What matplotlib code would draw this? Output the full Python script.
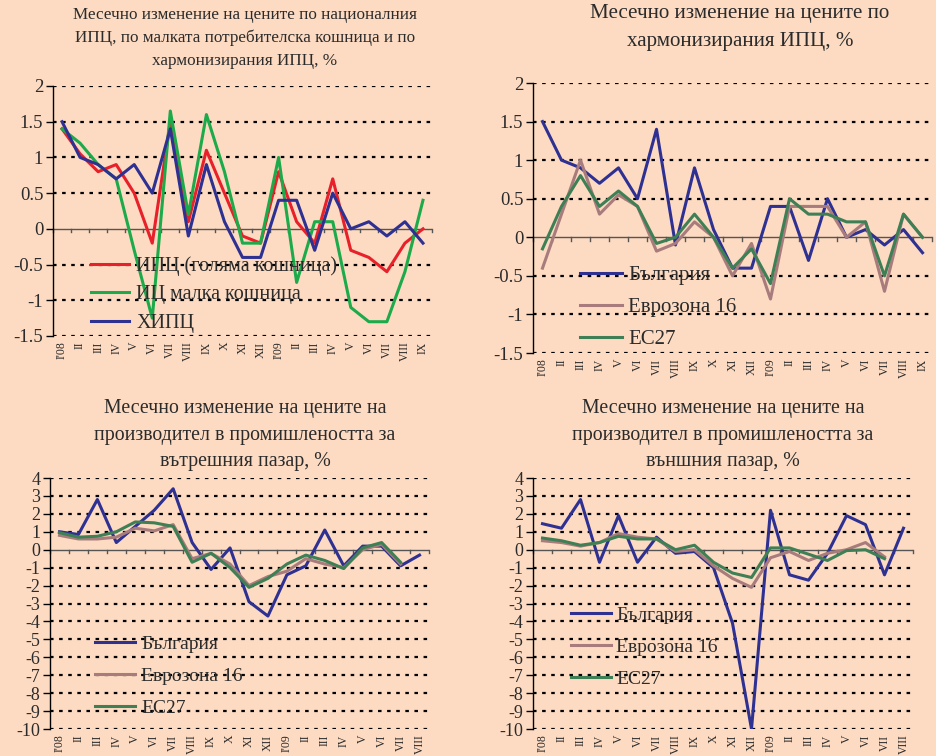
import matplotlib
matplotlib.use("Agg")
import matplotlib.pyplot as plt
from matplotlib.ticker import FixedLocator, FuncFormatter
import numpy as np

# ---------------- data ----------------
months_21 = ["I'08", "II", "III", "IV", "V", "VI", "VII", "VIII", "IX", "X", "XI", "XII",
             "I'09", "II", "III", "IV", "V", "VI", "VII", "VIII", "IX"]
months_20 = months_21[:20]

# Panel 1: national CPI, small basket, HICP
cpi_big = [1.4, 1.05, 0.8, 0.9, 0.5, -0.2, 1.5, 0.1, 1.1, 0.5, -0.1, -0.2,
           0.8, 0.1, -0.2, 0.7, -0.3, -0.4, -0.6, -0.2, 0.0]
cpi_small = [1.4, 1.2, 0.9, 0.7, -0.3, -1.25, 1.65, 0.2, 1.6, 0.8, -0.2, -0.2,
             1.0, -0.75, 0.1, 0.1, -1.1, -1.3, -1.3, -0.6, 0.4]
hicp_bg = [1.5, 1.0, 0.9, 0.7, 0.9, 0.5, 1.4, -0.1, 0.9, 0.1, -0.4, -0.4,
           0.4, 0.4, -0.3, 0.5, 0.0, 0.1, -0.1, 0.1, -0.2]

# Panel 2: HICP Bulgaria / Euro area 16 / EU27
hicp_ez16 = [-0.4, 0.3, 1.0, 0.3, 0.55, 0.4, -0.18, -0.08, 0.2, 0.0, -0.5, -0.08,
             -0.8, 0.4, 0.4, 0.4, 0.0, 0.2, -0.7, 0.3, 0.0]
hicp_eu27 = [-0.15, 0.4, 0.8, 0.4, 0.6, 0.4, -0.08, 0.0, 0.3, 0.0, -0.4, -0.15,
             -0.6, 0.5, 0.3, 0.3, 0.2, 0.2, -0.5, 0.3, 0.0]

# Panel 3: producer prices, domestic market
dom_bg = [1.0, 0.85, 2.8, 0.4, 1.3, 2.2, 3.4, 0.4, -1.1, 0.1, -2.9, -3.7,
          -1.4, -0.9, 1.1, -0.9, 0.2, 0.2, -0.9, -0.3]
dom_ez16 = [0.8, 0.6, 0.6, 0.7, 1.2, 1.05, 1.4, -0.5, -0.2, -0.8, -2.0, -1.5,
            -1.2, -0.5, -0.8, -1.0, 0.0, 0.3, -0.8]
dom_eu27 = [0.95, 0.7, 0.75, 1.0, 1.55, 1.5, 1.3, -0.7, -0.2, -1.0, -2.1, -1.6,
            -0.8, -0.3, -0.6, -1.05, 0.1, 0.4, -0.7]

# Panel 4: producer prices, external market
ext_bg = [1.45, 1.2, 2.8, -0.7, 1.9, -0.7, 0.7, -0.2, -0.1, -1.0, -4.1, -10.0,
          2.2, -1.4, -1.7, -0.2, 1.9, 1.4, -1.4, 1.2]
ext_ez16 = [0.5, 0.4, 0.2, 0.4, 0.9, 0.7, 0.6, -0.1, 0.0, -0.9, -1.6, -2.1,
            -0.45, -0.1, -0.6, -0.2, 0.0, 0.4, -0.4]
ext_eu27 = [0.65, 0.5, 0.25, 0.4, 0.75, 0.6, 0.6, 0.0, 0.25, -0.7, -1.3, -1.55,
            0.1, 0.1, -0.25, -0.6, -0.05, 0.0, -0.5]

ticks_top = [2, 1.5, 1, 0.5, 0, -0.5, -1, -1.5]
ticks_bot = list(range(4, -11, -1))

titles = [
    "Месечно изменение на цените по националния\nИПЦ, по малката потребителска кошница и по\nхармонизирания ИПЦ, %",
    "Месечно изменение на цените по\nхармонизирания ИПЦ, %",
    "Месечно изменение на цените на\nпроизводител в промишлеността за\nвътрешния пазар, %",
    "Месечно изменение на цените на\nпроизводител в промишлеността за\nвъншния пазар, %",
]

# ---------------- style ----------------
BG = "#FDDBC2"
TXT = "#2b2b2b"
RED = "#E8202A"
GRN = "#1DAA4A"
NAVY = "#2E3192"
MAUVE = "#A87C7C"
DGRN = "#3F7F55"
plt.rcParams["font.family"] = ["Liberation Serif", "DejaVu Serif"]
plt.rcParams["text.color"] = TXT

W, H = 936, 756
fig = plt.figure(figsize=(W / 100, H / 100), dpi=100, facecolor=BG)


def make_ax(l, r, t, b):
    return fig.add_axes([l / W, 1 - b / H, (r - l) / W, (b - t) / H])


def style(ax, labels, yticks, ylim, ysize):
    n = len(labels)
    ax.set_facecolor(BG)
    ax.set_xlim(-0.5, n - 0.5)
    ax.set_ylim(*ylim)
    for s in ["top", "right", "bottom"]:
        ax.spines[s].set_visible(False)
    ax.spines["left"].set_color("black")
    ax.spines["left"].set_linewidth(1.0)
    ax.yaxis.set_major_locator(FixedLocator(yticks))
    ax.yaxis.set_major_formatter(FuncFormatter(lambda v, p: "{:g}".format(v)))
    ax.tick_params(axis="y", direction="out", length=5, width=1, color="black",
                   labelsize=ysize, labelcolor=TXT, pad=2)
    for v in yticks:
        if v != 0:
            ax.axhline(v, color="black", lw=1.6, ls=(0, (1.6, 2.5)), zorder=1)
    ax.axhline(0, color="#555555", lw=1.0, zorder=1)
    # category tick marks on zero line
    trans = ax.get_xaxis_transform()
    y0 = ax.transAxes.inverted().transform(ax.transData.transform((0, 0)))[1]
    for i in range(n + 1):
        ax.plot([i - 0.5, i - 0.5], [y0, y0 - 0.012], color="#555555", lw=1.0,
                transform=trans, zorder=1, clip_on=False)
    ax.set_xticks(range(n))
    ax.set_xticklabels(labels, rotation=90, fontsize=8.5, color=TXT)
    ax.tick_params(axis="x", length=0, pad=4)


x21 = np.arange(21)
x20 = np.arange(20)

# Panel 1
ax1 = make_ax(53, 432, 86, 336)
style(ax1, months_21, ticks_top, (-1.5, 2), 13.5)
l1, = ax1.plot(x21, cpi_big, color=RED, lw=2.2, zorder=3)
l2, = ax1.plot(x21, cpi_small, color=GRN, lw=2.2, zorder=3)
l3, = ax1.plot(x21, hicp_bg, color=NAVY, lw=2.2, zorder=4)
lg = ax1.legend([l1, l2, l3], ["ИПЦ (голяма кошница)", "ИЦ малка кошница", "ХИПЦ"],
                loc="upper left", bbox_to_anchor=(0.079, 0.35), frameon=False,
                fontsize=14.5, handlelength=1.9, handletextpad=0.35, labelspacing=0.45,
                borderaxespad=0)
lg.set_zorder(5)

# Panel 2
ax2 = make_ax(533, 932, 83, 353)
style(ax2, months_21, ticks_top, (-1.5, 2), 13.5)
m1, = ax2.plot(x21, hicp_bg, color=NAVY, lw=2.2, zorder=3)
m2, = ax2.plot(x21, hicp_ez16, color=MAUVE, lw=2.2, zorder=3)
m3, = ax2.plot(x21, hicp_eu27, color=DGRN, lw=2.2, zorder=4)
lg = ax2.legend([m1, m2, m3], ["България", "Еврозона 16", "ЕС27"],
                loc="upper left", bbox_to_anchor=(0.097, 0.355), frameon=False,
                fontsize=15, handlelength=2.0, handletextpad=0.3, labelspacing=0.6,
                borderaxespad=0)
lg.set_zorder(5)

# Panel 3
ax3 = make_ax(50, 429, 478, 729)
style(ax3, months_20, ticks_bot, (-10, 4), 13)
n1, = ax3.plot(x20, dom_bg, color=NAVY, lw=2.2, zorder=3)
n2, = ax3.plot(x20[:19], dom_ez16, color=MAUVE, lw=2.2, zorder=3)
n3, = ax3.plot(x20[:19], dom_eu27, color=DGRN, lw=2.2, zorder=4)
lg = ax3.legend([n1, n2, n3], ["България", "Еврозона 16", "ЕС27"],
                loc="upper left", bbox_to_anchor=(0.099, 0.405), frameon=False,
                fontsize=14, handlelength=2.05, handletextpad=0.3, labelspacing=0.75,
                borderaxespad=0)
lg.set_zorder(5)

# Panel 4
ax4 = make_ax(533, 913, 478, 729)
style(ax4, months_20, ticks_bot, (-10, 4), 13)
p1, = ax4.plot(x20, ext_bg, color=NAVY, lw=2.2, zorder=3)
p2, = ax4.plot(x20[:19], ext_ez16, color=MAUVE, lw=2.2, zorder=3)
p3, = ax4.plot(x20[:19], ext_eu27, color=DGRN, lw=2.2, zorder=4)
lg = ax4.legend([p1, p2, p3], ["България", "Еврозона 16", "ЕС27"],
                loc="upper left", bbox_to_anchor=(0.079, 0.52), frameon=False,
                fontsize=14, handlelength=2.05, handletextpad=0.3, labelspacing=0.75,
                borderaxespad=0)
lg.set_zorder(5)

# Titles
fig.text(245 / W, 1 - 7 / H, titles[0], ha="center", va="top", fontsize=12.3,
         linespacing=1.55, color=TXT)
fig.text(740 / W, 1 - 4 / H, titles[1], ha="center", va="top", fontsize=15.1,
         linespacing=1.65, color=TXT)
fig.text(245 / W, 1 - 399 / H, titles[2], ha="center", va="top", fontsize=14.3,
         linespacing=1.55, color=TXT)
fig.text(723 / W, 1 - 399 / H, titles[3], ha="center", va="top", fontsize=14.3,
         linespacing=1.55, color=TXT)

fig.savefig("out.png", dpi=100, facecolor=BG)
